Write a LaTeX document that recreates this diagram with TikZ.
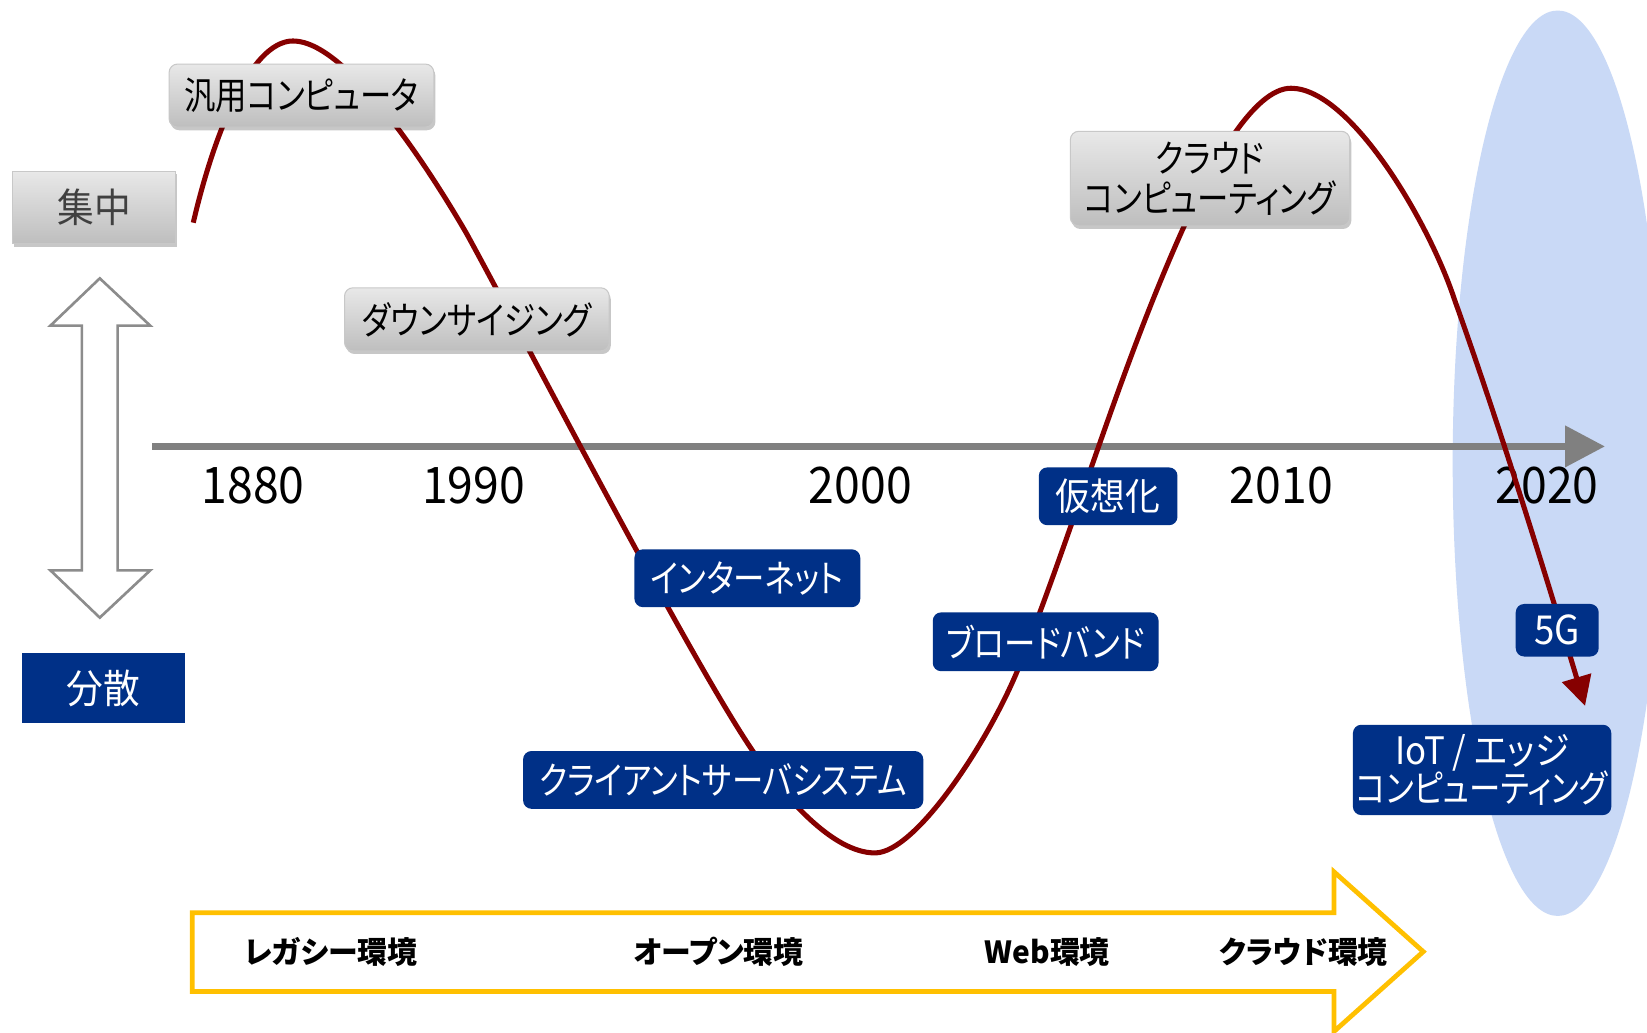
\documentclass[tikz,border=0pt]{standalone}
\usepackage{fontspec}
\newfontfamily\jp[RawFeature=+palt,FakeStretch=0.92]{Noto Sans CJK JP}
\newfontfamily\jpk[RawFeature=+palt,FakeStretch=0.83]{Noto Sans CJK JP}
\newfontfamily\jpnum[FakeStretch=0.92]{Noto Sans CJK JP}
\newfontfamily\jpb[RawFeature=+palt,FakeStretch=0.98]{Noto Sans CJK JP}
\usetikzlibrary{arrows.meta,shadows}
\definecolor{curvered}{RGB}{134,0,0}
\definecolor{boxblue}{RGB}{0,48,135}
\definecolor{ellblue}{RGB}{201,217,246}
\definecolor{axisgray}{RGB}{128,128,128}
\definecolor{arrgray}{RGB}{140,140,140}
\definecolor{yel}{RGB}{255,192,0}
\definecolor{gtop}{RGB}{232,232,232}
\definecolor{gbot}{RGB}{190,190,190}
\definecolor{gborder}{RGB}{200,200,200}
\definecolor{darktext}{RGB}{64,64,64}
\begin{document}
\begin{tikzpicture}[x=1pt,y=-1pt,
  graybox/.style={rectangle,rounded corners=8pt,draw=gborder,line width=1pt,
    top color=gtop,bottom color=gbot,inner sep=0pt,align=center,text=black,
    drop shadow={shadow xshift=1.5pt,shadow yshift=-3pt,opacity=0.22,fill=black}},
  squarebox/.style={graybox,rounded corners=0pt},
  bluebox/.style={rectangle,rounded corners=8pt,fill=boxblue,inner sep=0pt,
    align=center,text=white},
  lbl/.style={font=\jpk\fontsize{36}{42}\selectfont},
  kanjilbl/.style={font=\jp\fontsize{36}{42}\selectfont},
  yearlbl/.style={font=\jpnum\fontsize{48}{50}\selectfont,text=black,inner sep=0pt},
  envlbl/.style={font=\jpb\bfseries\fontsize{29}{31}\selectfont,text=black,inner sep=0pt},
  curve/.style={draw=curvered,line width=4.8pt,-{Triangle[length=28pt,width=28pt]}}
]
\useasboundingbox (0,0) rectangle (1568,983);
\fill[white] (0,0) rectangle (1568,983);

% light blue ellipse
\fill[ellblue] (1483,441) ellipse [x radius=100, y radius=431];

% timeline axis
\coordinate (axs) at (145,425);
\coordinate (axe) at (1528,425);
\draw[axisgray,line width=7pt,-{Triangle[length=38pt,width=38pt]}] (axs) -- (axe);

% years
\node[yearlbl] (y1880) at (241,462) {1880};
\node[yearlbl] (y1990) at (451,462) {1990};
\node[yearlbl] (y2000) at (819,462) {2000};
\node[yearlbl] (y2010) at (1220,462) {2010};
\node[yearlbl] (y2020) at (1473,462) {2020};

% double arrow (centralised / distributed)
\draw[arrgray,line width=2.5pt,fill=white,line join=miter]
  (95,265) -- (143,310) -- (112,310) -- (112,543) -- (143,543) -- (95,588)
  -- (48,543) -- (78,543) -- (78,310) -- (48,310) -- cycle;

% the wave
\coordinate (w0) at (184,212);
\coordinate (w1) at (279,39);
\coordinate (w2) at (444,222);
\coordinate (w3) at (716,714);
\coordinate (w4) at (833,812);
\coordinate (w5) at (968,640);
\coordinate (w6) at (1127,216);
\coordinate (w7) at (1229,84);
\coordinate (w8) at (1385,286);
\coordinate (w9) at (1509,672);
\draw[curve] (w0)
  .. controls (203,130) and (238,39) .. (w1)
  .. controls (330,39) and (408,160) .. (w2)
  .. controls (493.5,312) and (655,624) .. (w3)
  .. controls (746.6,759) and (793,812) .. (w4)
  .. controls (871,812) and (938.6,710) .. (w5)
  .. controls (1024,500) and (1064,356) .. (w6)
  .. controls (1154,156) and (1194,84) .. (w7)
  .. controls (1285,84) and (1360,210) .. (w8)
  .. controls (1428,406) and (1473,552) .. (w9);

% left labels
\node[squarebox,minimum width=155pt,minimum height=69pt,text=darktext,
  font=\jp\fontsize{38}{42}\selectfont] (shuchu) at (89.5,197.5) {集中};
\node[rectangle,fill=boxblue,text=white,inner sep=0pt,minimum width=155pt,minimum height=66pt,
  font=\jp\fontsize{38}{42}\selectfont] (bunsan) at (98.5,655) {分散};

% gray boxes
\node[graybox,lbl,minimum width=252pt,minimum height=60pt] (hanyo) at (287,91) {汎用コンピュータ};
\node[graybox,lbl,minimum width=252pt,minimum height=60pt] (down) at (454,304) {ダウンサイジング};
\node[graybox,lbl,minimum width=266pt,minimum height=90pt] (cloud) at (1152,170)
  {クラウド\\[-4pt]コンピューティング};

% blue boxes
\node[bluebox,kanjilbl,minimum width=132pt,minimum height=55pt] (kaso) at (1055,472.5) {仮想化};
\node[bluebox,lbl,minimum width=215pt,minimum height=55pt] (inet) at (711.5,550.5) {インターネット};
\node[bluebox,lbl,minimum width=215pt,minimum height=56pt] (bb) at (995.5,611) {ブロードバンド};
\node[bluebox,lbl,minimum width=381pt,minimum height=55pt] (cs) at (688.5,742.5) {クライアントサーバシステム};
\node[bluebox,minimum width=79pt,minimum height=50pt,font=\jpnum\fontsize{38}{40}\selectfont] (fiveg) at (1482.5,600) {5G};
\node[bluebox,lbl,minimum width=246pt,minimum height=86pt] (iot) at (1411,733)
  {{\jp IoT / エッジ}\\[-6pt]コンピューティング};

% yellow era arrow
\draw[yel,line width=4.5pt,fill=white,line join=miter]
  (183,869) -- (1270,869) -- (1270,830) -- (1355,906) -- (1270,982)
  -- (1270,944) -- (183,944) -- cycle;
\node[envlbl] (legacy) at (315,906) {レガシー環境};
\node[envlbl] (open) at (684,906) {オープン環境};
\node[envlbl] (web) at (997,906) {Web環境};
\node[envlbl] (cloudenv) at (1241,906) {クラウド環境};
\end{tikzpicture}
\end{document}
